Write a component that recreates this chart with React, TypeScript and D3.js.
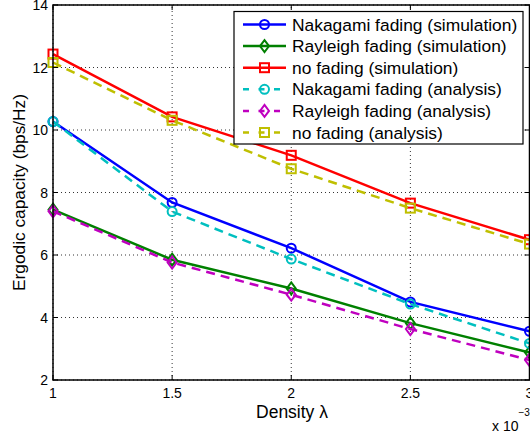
import React, { useEffect, useRef } from 'react';
import * as d3 from 'd3';

const density = [1, 1.5, 2, 2.5, 3];
const nakagamiSim = [10.27, 7.68, 6.22, 4.5, 3.56];
const rayleighSim = [7.45, 5.85, 4.93, 3.82, 2.88];
const noFadingSim = [12.43, 10.42, 9.19, 7.66, 6.49];
const nakagamiAna = [10.27, 7.39, 5.87, 4.43, 3.17];
const rayleighAna = [7.4, 5.76, 4.73, 3.63, 2.64];
const noFadingAna = [12.16, 10.31, 8.76, 7.5, 6.35];
const xTicks = [1, 1.5, 2, 2.5, 3];
const yTicks = [2, 4, 6, 8, 10, 12, 14];

const series = [
  { name: 'Nakagami fading (simulation)', values: nakagamiSim, color: '#0000ff', dash: false, marker: 'circle' },
  { name: 'Rayleigh fading (simulation)', values: rayleighSim, color: '#008000', dash: false, marker: 'diamond' },
  { name: 'no fading (simulation)', values: noFadingSim, color: '#ff0000', dash: false, marker: 'square' },
  { name: 'Nakagami fading (analysis)', values: nakagamiAna, color: '#00bfbf', dash: true, marker: 'circle' },
  { name: 'Rayleigh fading (analysis)', values: rayleighAna, color: '#bf00bf', dash: true, marker: 'diamond' },
  { name: 'no fading (analysis)', values: noFadingAna, color: '#bfbf00', dash: true, marker: 'square' },
];

const font = 'Liberation Sans, Arial, Helvetica, sans-serif';

function drawMarker(g, type, x, y, color) {
  if (type === 'circle') {
    g.append('circle').attr('cx', x).attr('cy', y).attr('r', 4.5)
      .attr('fill', 'none').attr('stroke', color).attr('stroke-width', 2);
  } else if (type === 'diamond') {
    g.append('path').attr('d', `M${x},${y - 6}L${x + 4.5},${y}L${x},${y + 6}L${x - 4.5},${y}Z`)
      .attr('fill', 'none').attr('stroke', color).attr('stroke-width', 2);
  } else {
    g.append('rect').attr('x', x - 4.5).attr('y', y - 4.5).attr('width', 9).attr('height', 9)
      .attr('fill', 'none').attr('stroke', color).attr('stroke-width', 2);
  }
}

export default function App() {
  const ref = useRef(null);

  useEffect(() => {
    const width = 530, height = 432;
    const margin = { left: 53, right: 0, top: 5, bottom: 52 };
    const svg = d3.select(ref.current);
    svg.selectAll('*').remove();

    const x = d3.scaleLinear().domain([1, 3]).range([margin.left, width - margin.right - 0.5]);
    const y = d3.scaleLinear().domain([2, 14]).range([height - margin.bottom, margin.top]);

    const g = svg.append('g');

    // grid
    xTicks.forEach(t => {
      g.append('line').attr('x1', x(t)).attr('x2', x(t)).attr('y1', y(2)).attr('y2', y(14))
        .attr('stroke', '#000').attr('stroke-width', 0.8).attr('stroke-dasharray', '1,3');
    });
    yTicks.forEach(t => {
      g.append('line').attr('x1', x(1)).attr('x2', x(3)).attr('y1', y(t)).attr('y2', y(t))
        .attr('stroke', '#000').attr('stroke-width', 0.8).attr('stroke-dasharray', '1,3');
    });

    // series
    const line = d3.line().x((d, i) => x(density[i])).y(d => y(d));
    series.forEach(s => {
      g.append('path').attr('d', line(s.values)).attr('fill', 'none')
        .attr('stroke', s.color).attr('stroke-width', 2.5)
        .attr('stroke-dasharray', s.dash ? '9,6' : null);
      s.values.forEach((v, i) => drawMarker(g, s.marker, x(density[i]), y(v), s.color));
    });

    // axes box
    g.append('rect').attr('x', x(1)).attr('y', y(14)).attr('width', x(3) - x(1)).attr('height', y(2) - y(14))
      .attr('fill', 'none').attr('stroke', '#000').attr('stroke-width', 1.5);

    // ticks
    xTicks.forEach(t => {
      g.append('line').attr('x1', x(t)).attr('x2', x(t)).attr('y1', y(2)).attr('y2', y(2) - 5)
        .attr('stroke', '#000');
      g.append('line').attr('x1', x(t)).attr('x2', x(t)).attr('y1', y(14)).attr('y2', y(14) + 5)
        .attr('stroke', '#000');
      g.append('text').attr('x', x(t)).attr('y', y(2) + 18).attr('text-anchor', 'middle')
        .attr('font-family', font).attr('font-size', 14).text(String(t));
    });
    yTicks.forEach(t => {
      g.append('line').attr('x1', x(1)).attr('x2', x(1) + 5).attr('y1', y(t)).attr('y2', y(t))
        .attr('stroke', '#000');
      g.append('line').attr('x1', x(3)).attr('x2', x(3) - 5).attr('y1', y(t)).attr('y2', y(t))
        .attr('stroke', '#000');
      g.append('text').attr('x', x(1) - 5).attr('y', y(t) + 5).attr('text-anchor', 'end')
        .attr('font-family', font).attr('font-size', 14).text(String(t));
    });

    // axis labels
    g.append('text').attr('x', 292).attr('y', 418).attr('text-anchor', 'middle')
      .attr('font-family', font).attr('font-size', 17.5).text('Density λ');
    const ex = g.append('text').attr('x', 492).attr('y', 431).attr('font-family', font).attr('font-size', 14);
    ex.append('tspan').text('x 10');
    ex.append('tspan').attr('dy', -15).attr('font-size', 10).text('−3');
    g.append('text').attr('transform', `translate(25,${(y(2) + y(14)) / 2}) rotate(-90)`)
      .attr('text-anchor', 'middle').attr('font-family', font).attr('font-size', 17.3)
      .text('Ergodic capacity (bps/Hz)');

    // legend
    const lg = g.append('g');
    lg.append('rect').attr('x', 234).attr('y', 11.5).attr('width', 289).attr('height', 132.5)
      .attr('fill', '#fff').attr('stroke', '#000').attr('stroke-width', 1.2);
    series.forEach((s, i) => {
      const ly = 24.5 + i * 21.6;
      lg.append('line').attr('x1', 243).attr('x2', 286).attr('y1', ly).attr('y2', ly)
        .attr('stroke', s.color).attr('stroke-width', 2.5)
        .attr('stroke-dasharray', s.dash ? '6,9.5' : null);
      drawMarker(lg, s.marker, 264.5, ly, s.color);
      lg.append('text').attr('x', 292).attr('y', ly + 6).attr('font-family', font)
        .attr('font-size', 17.4).text(s.name);
    });
  }, []);

  return (
    <svg ref={ref} width={530} height={432} style={{ position: 'absolute', left: 0, top: 0, background: '#fff' }} />
  );
}
